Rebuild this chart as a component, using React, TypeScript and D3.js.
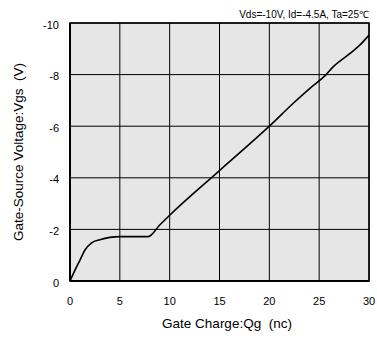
import React from "react";
import * as d3 from "d3";

const qg = [0, 0.5, 1.0, 1.5, 2.17, 3.0, 4.0, 5.0, 7.85, 9.0, 10, 15, 20, 22.4, 24.07, 25.7, 26.4, 28.1, 29.1, 30];
const vgs = [0, -0.42, -0.81, -1.2, -1.48, -1.6, -1.69, -1.72, -1.72, -2.17, -2.55, -4.28, -6.0, -6.89, -7.47, -8.0, -8.3, -8.82, -9.15, -9.53];
const xTicks = [0, 5, 10, 15, 20, 25, 30];
const yTicks = [0, -2, -4, -6, -8, -10];

export default function App() {
  const W = 377, H = 341;
  const m = { l: 70, t: 23, r: 369, b: 281 };
  const x = d3.scaleLinear().domain([0, 30]).range([m.l, m.r]);
  const y = d3.scaleLinear().domain([0, -10]).range([m.b, m.t]);
  const line = d3
    .line<number>()
    .x((_, i) => x(qg[i]))
    .y((_, i) => y(vgs[i]))
    .curve(d3.curveMonotoneX);
  const font = "'Liberation Sans', Arial, sans-serif";
  return (
    <svg width={W} height={H} style={{ position: "absolute", left: 0, top: 0 }} fontFamily={font}>
      <rect x={m.l} y={m.t} width={m.r - m.l} height={m.b - m.t} fill="#e6e6e6" />
      {xTicks.map((t) => (
        <line key={"gx" + t} x1={x(t)} x2={x(t)} y1={m.t} y2={m.b} stroke="#000" strokeWidth={1} />
      ))}
      {yTicks.map((t) => (
        <line key={"gy" + t} x1={m.l} x2={m.r} y1={y(t)} y2={y(t)} stroke="#000" strokeWidth={1} />
      ))}
      <rect x={m.l} y={m.t} width={m.r - m.l} height={m.b - m.t} fill="none" stroke="#000" strokeWidth={1.5} />
      <line x1={m.l} x2={m.l} y1={m.t} y2={m.b} stroke="#000" strokeWidth={2} />
      <line x1={m.l} x2={m.r} y1={m.b} y2={m.b} stroke="#000" strokeWidth={2} />
      <path d={line(vgs) || ""} fill="none" stroke="#000" strokeWidth={1.6} />
      {xTicks.map((t) => (
        <text key={"tx" + t} x={x(t)} y={305} textAnchor="middle" fontSize={11}>{t}</text>
      ))}
      {yTicks.map((t) => (
        <text key={"ty" + t} x={59} y={y(t) + 5.5} textAnchor="end" fontSize={11}>{t}</text>
      ))}
      <text x={227} y={328} textAnchor="middle" fontSize={13.5} style={{ whiteSpace: "pre" }}>
        Gate Charge:Qg  (nc)
      </text>
      <text
        transform={`translate(23,${(m.t + m.b) / 2}) rotate(-90)`}
        textAnchor="middle"
        fontSize={13.5}
        style={{ whiteSpace: "pre" }}
      >
        Gate-Source Voltage:Vgs  (V)
      </text>
      <text x={369} y={17.5} textAnchor="end" fontSize={10}>Vds=-10V, Id=-4.5A, Ta=25℃</text>
    </svg>
  );
}
